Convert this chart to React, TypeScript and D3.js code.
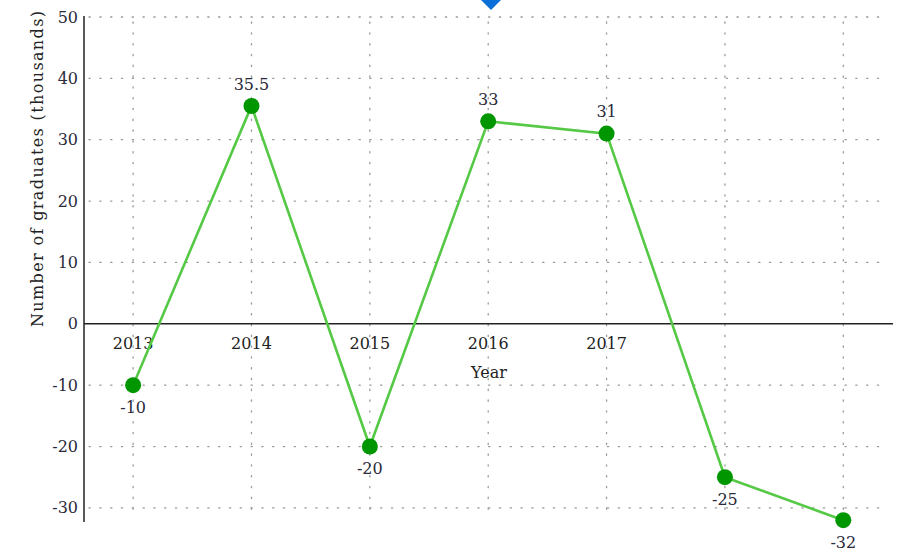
import React, { useEffect, useRef } from 'react';
import * as d3 from 'd3';

const years = [2013, 2014, 2015, 2016, 2017, 2018, 2019];
const yearLabels = ['2013', '2014', '2015', '2016', '2017'];
const graduates = [-10, 35.5, -20, 33, 31, -25, -32];
const valueLabels = ['-10', '35.5', '-20', '33', '31', '-25', '-32'];
const yTicks = [-30, -20, -10, 0, 10, 20, 30, 40, 50];

const App = () => {
  const svgRef = useRef<SVGSVGElement>(null);
  const svgWidth = 904;
  const svgHeight = 550;

  useEffect(() => {
    const svg = d3.select(svgRef.current);
    svg.selectAll('*').remove();

    const font = '"DejaVu Serif", "Liberation Serif", serif';

    const x = d3.scaleLinear()
      .domain([2012.585, 2019.42])
      .range([84, 893]);

    const y = d3.scaleLinear()
      .domain([-32.3, 50])
      .range([522, 17]);

    // dotted grid
    const grid = svg.append('g')
      .attr('stroke', '#9a9a9a')
      .attr('stroke-width', 1.3)
      .attr('stroke-dasharray', '1.3,9.5')
      .attr('stroke-linecap', 'round');

    grid.selectAll('.hg')
      .data(yTicks.filter(d => d !== 0))
      .enter().append('line')
      .attr('x1', 89)
      .attr('x2', 885)
      .attr('y1', d => y(d))
      .attr('y2', d => y(d));

    grid.selectAll('.vg')
      .data(years)
      .enter().append('line')
      .attr('x1', d => x(d))
      .attr('x2', d => x(d))
      .attr('y1', 22)
      .attr('y2', 515);

    // axes
    svg.append('line')
      .attr('x1', x(2012.585)).attr('x2', x(2012.585))
      .attr('y1', y(50) - 1).attr('y2', y(-32.3))
      .attr('stroke', '#222').attr('stroke-width', 1.5);

    svg.append('line')
      .attr('x1', 84).attr('x2', 893)
      .attr('y1', y(0)).attr('y2', y(0))
      .attr('stroke', '#222').attr('stroke-width', 1.5);

    // y tick labels
    svg.append('g')
      .selectAll('text')
      .data(yTicks)
      .enter().append('text')
      .attr('x', 78)
      .attr('y', d => y(d))
      .attr('dy', '0.35em')
      .attr('text-anchor', 'end')
      .attr('font-family', font)
      .attr('font-size', 16)
      .attr('fill', '#2a2a3a')
      .text(d => d);

    // x tick labels
    svg.append('g')
      .selectAll('text')
      .data(yearLabels)
      .enter().append('text')
      .attr('x', (d, i) => x(years[i]))
      .attr('y', y(0) + 20)
      .attr('dy', '0.35em')
      .attr('text-anchor', 'middle')
      .attr('font-family', font)
      .attr('font-size', 16)
      .attr('fill', '#222')
      .text(d => d);

    svg.append('text')
      .attr('x', 489)
      .attr('y', 372)
      .attr('dy', '0.35em')
      .attr('text-anchor', 'middle')
      .attr('font-family', font)
      .attr('font-size', 16)
      .attr('fill', '#222')
      .text('Year');

    svg.append('text')
      .attr('transform', 'translate(37,169) rotate(-90)')
      .attr('dy', '0.35em')
      .attr('text-anchor', 'middle')
      .attr('font-family', font)
      .attr('font-size', 16)
      .attr('textLength', 316)
      .attr('lengthAdjust', 'spacing')
      .attr('fill', '#222')
      .text('Number of graduates (thousands)');

    // line
    const line = d3.line<number>()
      .x((d, i) => x(years[i]))
      .y(d => y(d));

    svg.append('path')
      .datum(graduates)
      .attr('fill', 'none')
      .attr('stroke', '#55c945')
      .attr('stroke-width', 2.6)
      .attr('d', line);

    svg.append('g')
      .selectAll('circle')
      .data(graduates)
      .enter().append('circle')
      .attr('cx', (d, i) => x(years[i]))
      .attr('cy', d => y(d))
      .attr('r', 8)
      .attr('fill', '#009600');

    // value labels
    svg.append('g')
      .selectAll('text')
      .data(graduates)
      .enter().append('text')
      .attr('x', (d, i) => x(years[i]))
      .attr('y', d => d >= 0 ? y(d) - 22 : y(d) + 22)
      .attr('dy', '0.35em')
      .attr('text-anchor', 'middle')
      .attr('font-family', font)
      .attr('font-size', 16)
      .attr('fill', '#2a2a3a')
      .text((d, i) => valueLabels[i]);

    // blue marker at top
    svg.append('path')
      .attr('d', 'M 491 -10 L 501 0 L 491 10 L 481 0 Z')
      .attr('fill', '#0a6fd6');
  }, []);

  return (
    <svg ref={svgRef} width={svgWidth} height={svgHeight}
      style={{ position: 'absolute', left: 0, top: 0, background: '#fff' }}></svg>
  );
};

export default App;
